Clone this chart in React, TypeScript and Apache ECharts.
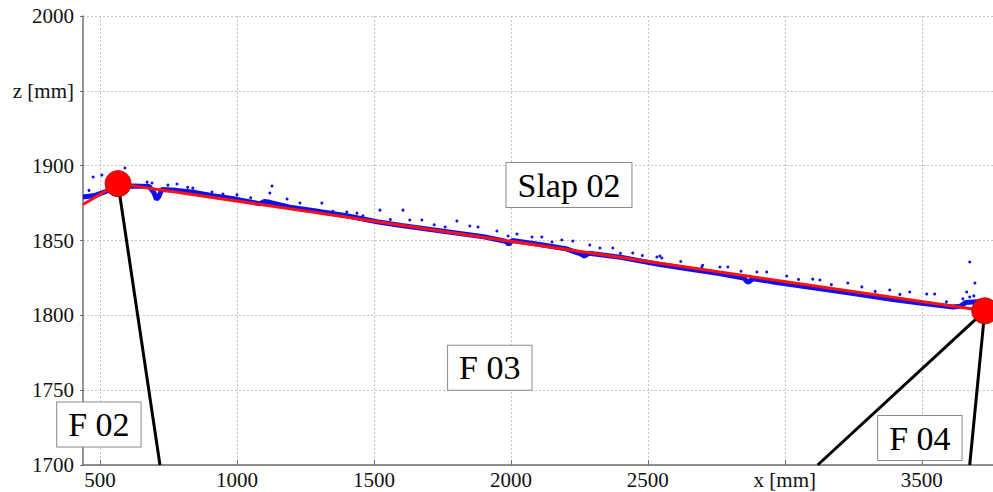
import React, { useEffect, useRef } from "react";
import * as echarts from "echarts";

// Measured profile band (blue points), x [mm] / z [mm]
const bandX = [438, 480, 525, 566, 620, 680, 697, 706, 714, 725, 780, 850, 912, 1000, 1084, 1100, 1120, 1200, 1277, 1400, 1511, 1600, 1700, 1800, 1900, 1980, 1992, 2005, 2100, 2200, 2255, 2268, 2285, 2400, 2544, 2650, 2760, 2850, 2865, 2885, 2950, 3117, 3250, 3394, 3500, 3613, 3640, 3660, 3700];
const bandZ = [1879, 1880, 1883, 1885.5, 1886.4, 1886, 1882, 1877.5, 1879, 1884, 1883.5, 1882, 1880, 1877.5, 1874.5, 1876, 1875.5, 1872, 1870, 1866.5, 1862.5, 1860, 1857.5, 1855, 1852.5, 1849.5, 1847.5, 1850, 1847.5, 1844.5, 1841, 1839.5, 1841.5, 1838.8, 1834, 1831, 1828, 1825, 1822, 1824.5, 1822.5, 1818, 1814.5, 1810.5, 1808, 1805.5, 1806, 1808.5, 1809];

// Scattered outlier points
const outlierX = [475, 507, 591, 672, 690, 748, 781, 839, 909, 949, 1128, 1120, 1183, 1230, 1310, 1401, 1438, 1522, 1606, 1631, 1675, 1803, 1850, 1880, 1949, 2022, 2077, 2113, 2186, 2226, 2288, 2325, 2372, 2445, 2533, 2551, 2544, 2697, 2763, 2792, 2898, 2934, 3007, 3102, 3128, 3230, 3281, 3383, 3456, 3518, 3547, 3675, 3694, 3664, 3675, 3650, 3690, 3705, 460, 540, 820, 1000, 1050, 1350, 1460, 1560, 1720, 1760, 1990, 2150, 2400, 2480, 2620, 2700, 2840, 3050, 3170, 3330, 3420, 3590];
const outlierZ = [1892.4, 1893.7, 1898.4, 1889, 1888.4, 1887, 1887.7, 1885, 1882.4, 1881, 1886.4, 1881.7, 1877.7, 1875, 1875, 1869, 1868.3, 1870.3, 1870.3, 1863.7, 1863.7, 1863, 1859.7, 1859, 1856.3, 1854.3, 1852.3, 1852.3, 1850.3, 1849.6, 1847, 1845, 1845, 1841.6, 1839, 1838.3, 1839.6, 1832.3, 1832.3, 1832.3, 1829, 1829, 1826.3, 1824.2, 1823.6, 1821.6, 1819, 1816.9, 1815.6, 1814.2, 1814.2, 1835.6, 1821.6, 1815.6, 1812.2, 1811, 1813, 1810, 1883.5, 1885, 1885.5, 1880.5, 1878.5, 1869.5, 1866.5, 1864, 1860.5, 1859, 1853, 1849, 1841.5, 1840, 1836, 1833.5, 1829.5, 1824, 1820.5, 1816, 1814, 1809];

// Fitted polyline (red)
const fitX = [438, 566, 3730];
const fitZ = [1874, 1888, 1803];

// Support nodes (red circles)
const nodeX = [566, 3730];
const nodeZ = [1888, 1803];

// Leader lines to the supports: from node to axis
const leaderFromX = [566, 3730, 3730];
const leaderFromZ = [1888, 1803, 1803];
const leaderToX = [719, 3120, 3675];
const leaderToZ = [1700, 1700, 1700];

// Annotations
const labelText = ["Slap 02", "F 03", "F 02", "F 04"];
const labelX = [2212, 1923, 496, 3493];
const labelZ = [1887, 1765, 1727, 1718];

// Axes
const xTicks = [500, 1000, 1500, 2000, 2500, 3000, 3500];
const xMin = 438;
const xMax = 3760;
const yMin = 1700;
const yMax = 2000;
const yStep = 50;

const FONT = "Liberation Serif";

export default function App() {
  const ref = useRef<HTMLDivElement>(null);

  useEffect(() => {
    document.body.style.margin = "0";
    if (!ref.current) return;
    const chart = echarts.init(ref.current, null, { renderer: "svg" });

    const band = bandX.map((x, i) => [x, bandZ[i]]);
    const outliers = outlierX.map((x, i) => [x, outlierZ[i]]);
    const fit = fitX.map((x, i) => [x, fitZ[i]]);
    const nodes = nodeX.map((x, i) => [x, nodeZ[i]]);

    const leaderSeries = leaderFromX.map((x, i) => ({
      type: "line",
      data: [
        [x, leaderFromZ[i]],
        [leaderToX[i], leaderToZ[i]],
      ],
      showSymbol: false,
      lineStyle: { color: "#000", width: 3 },
      z: 5,
      silent: true,
    }));

    const richLabel = { s: { fontFamily: FONT, fontSize: 21, color: "#111" } };

    const option: any = {
      animation: false,
      backgroundColor: "#fff",
      textStyle: { fontFamily: FONT },
      grid: { left: 83, top: 16, right: 0, bottom: 27 },
      xAxis: {
        type: "value",
        min: xMin,
        max: xMax,
        axisLine: { show: true, lineStyle: { color: "#6e6e6e", width: 1.5 } },
        axisTick: {
          show: true,
          inside: true,
          length: 5,
          customValues: xTicks,
          lineStyle: { color: "#6e6e6e" },
        },
        axisLabel: {
          customValues: xTicks,
          color: "#111",
          fontFamily: FONT,
          fontSize: 21,
          margin: 4,
          rich: richLabel,
          formatter: (v: number) => "{s|" + (v === 3000 ? "x [mm]" : String(v)) + "}",
        },
        splitLine: {
          show: true,
          lineStyle: { color: "#c4c4c4", type: [2, 2], width: 1 },
        },
      },
      yAxis: {
        type: "value",
        min: yMin,
        max: yMax,
        interval: yStep,
        axisLine: { show: true, lineStyle: { color: "#6e6e6e", width: 1.5 } },
        axisTick: { show: true, inside: false, length: 3, lineStyle: { color: "#6e6e6e" } },
        axisLabel: {
          color: "#111",
          fontFamily: FONT,
          fontSize: 21,
          margin: 9,
          rich: richLabel,
          formatter: (v: number) => "{s|" + (v === 1950 ? "z [mm]" : String(v)) + "}",
        },
        splitLine: {
          show: true,
          lineStyle: { color: "#c4c4c4", type: [2, 2], width: 1 },
        },
      },
      series: [
        {
          type: "line",
          data: band,
          showSymbol: false,
          lineStyle: { color: "#1010ee", width: 5 },
          z: 1,
          silent: true,
        },
        {
          type: "scatter",
          data: outliers,
          symbolSize: 3,
          itemStyle: { color: "#1010ee", opacity: 1 },
          z: 2,
          silent: true,
        },
        {
          type: "line",
          data: fit,
          showSymbol: false,
          lineStyle: { color: "#ff1010", width: 3 },
          z: 3,
          silent: true,
        },
        ...leaderSeries,
        {
          type: "scatter",
          data: nodes,
          symbolSize: 26,
          itemStyle: { color: "#ff0000", borderColor: "#c80000", borderWidth: 1, opacity: 1 },
          z: 6,
          silent: true,
        },
      ],
    };

    chart.setOption(option);

    const graphics = labelText.map((t, i) => {
      const p = chart.convertToPixel({ gridIndex: 0 }, [labelX[i], labelZ[i]]) as number[];
      return {
        type: "text",
        x: p[0],
        y: p[1],
        z: 100,
        style: {
          text: t,
          fontFamily: FONT,
          fontSize: 34,
          lineHeight: 40,
          fill: "#000",
          align: "center",
          verticalAlign: "middle",
          backgroundColor: "#fff",
          borderColor: "#8a8a8a",
          borderWidth: 1,
          padding: [2, 11, 2, 11],
        },
      };
    });
    chart.setOption({ graphic: graphics });

    return () => {
      chart.dispose();
    };
  }, []);

  return <div ref={ref} style={{ width: 993, height: 492 }} />;
}
